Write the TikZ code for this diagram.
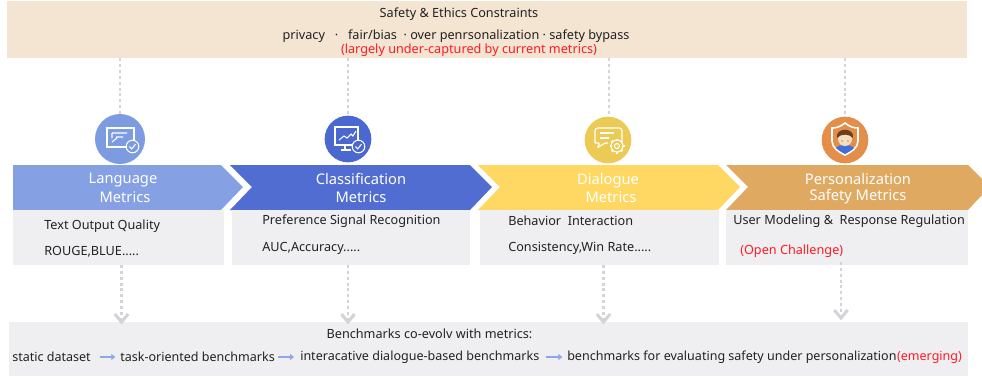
\documentclass[tikz,border=0pt]{standalone}
\usepackage{fontspec}
\setmainfont{Noto Sans}
\usetikzlibrary{arrows.meta}
\definecolor{bandtan}{HTML}{F4E4D2}
\definecolor{panelgray}{HTML}{EFEFF2}
\definecolor{dotgray}{HTML}{D4D4D8}
\definecolor{inkblack}{HTML}{222222}
\definecolor{alertred}{HTML}{FF1A24}
\definecolor{langblue}{HTML}{85A0E3}
\definecolor{langdisc}{HTML}{7D9BE0}
\definecolor{classblue}{HTML}{516DD2}
\definecolor{classdisc}{HTML}{4A68CF}
\definecolor{dialyellow}{HTML}{FFD864}
\definecolor{dialdisc}{HTML}{EBCB55}
\definecolor{perstan}{HTML}{E0A961}
\definecolor{persdisc}{HTML}{E38F4B}
\definecolor{flowblue}{HTML}{8CA8E6}
\definecolor{skintone}{HTML}{F6DDBE}
\definecolor{hairbrown}{HTML}{6B3F1D}
\definecolor{shirtblue}{HTML}{3F6FD8}
\tikzset{
  panel/.style={fill=#1, inner sep=0pt},
  bodytext/.style={anchor=west, inner sep=0pt, text=inkblack, font=\fontsize{9.5}{11}\selectfont},
  benchtext/.style={bodytext, font=\fontsize{9.4}{11}\selectfont},
  headtext/.style={inner sep=0pt, text=white, font=\fontsize{11}{13}\selectfont},
  redtext/.style={bodytext, text=alertred},
  disc/.style={circle, fill=#1, inner sep=0pt, minimum size=35pt},
  dotline/.style={dotgray, line width=2pt, dash pattern=on 2.2pt off 2.2pt},
  dotarrow/.style={dotline, -{Straight Barb[length=6pt,width=10pt,line width=2.3pt]}},
  flowarrow/.style={flowblue, line width=2.2pt, -{Triangle[length=3pt,width=4.5pt]}},
  glyph/.style={white, line width=0.8pt}
}
\begin{document}
\begin{tikzpicture}[x=0.75pt,y=-0.75pt]
\useasboundingbox (0,0) rectangle (982,376);

% top and bottom bands
\node[panel=bandtan, minimum width=720pt, minimum height=42.75pt] (band) at (487,29.5) {};
\node[panel=panelgray, minimum width=719.25pt, minimum height=40.5pt] (bench) at (488.5,349) {};
\node[bodytext, anchor=center] (title) at (459,14) {Safety \& Ethics Constraints};
\node[bodytext, anchor=center] (risks) at (456,36) {privacy\ \ \ ·\ \ \ fair/bias\ \ · over penrsonalization · safety bypass};
\node[redtext, anchor=center] (gap) at (469,50.5) {(largely under-captured by current metrics)};

% chevrons
\fill[langblue] (13,165) -- (221,165) -- (243,187) -- (221,210) -- (13,210) -- cycle;
\fill[classblue] (230,165) -- (470,165) -- (492,187) -- (470,210) -- (230,210) -- (252,187) -- cycle;
\fill[dialyellow] (478,165) -- (718,165) -- (740,187) -- (718,210) -- (478,210) -- (500,187) -- cycle;
\fill[perstan] (726,165) -- (968,165) -- (982,179) -- (982,195) -- (968,210) -- (726,210) -- (748,187) -- cycle;
\node[headtext] (langa) at (123,180.5) {Language};
\node[headtext] (langb) at (125,197) {Metrics};
\node[headtext] (classa) at (361,179) {Classification};
\node[headtext] (classb) at (361,197) {Metrics};
\node[headtext] (diala) at (608,180.5) {Dialogue};
\node[headtext] (dialb) at (611,197) {Metrics};
\node[headtext] (persa) at (858,179) {Personalization};
\node[headtext] (persb) at (858,197) {Safety Metrics};

% gray boxes
\node[panel=panelgray, minimum width=158.25pt, minimum height=41.25pt] (langbox) at (118.5,237.5) {};
\node[panel=panelgray, minimum width=178.5pt, minimum height=41.25pt] (classbox) at (351,237.5) {};
\node[panel=panelgray, minimum width=179.25pt, minimum height=41.25pt] (dialbox) at (599.5,237.5) {};
\node[panel=panelgray, minimum width=181.5pt, minimum height=41.25pt] (persbox) at (847,237.5) {};
\node[bodytext] (langtop) at (44,226) {Text Output Quality};
\node[bodytext] (langlow) at (44,252) {ROUGE,BLUE.....};
\node[bodytext] (classtop) at (262,221) {Preference Signal Recognition};
\node[bodytext] (classlow) at (262,248) {AUC,Accuracy.....};
\node[bodytext] (dialtop) at (508,221) {Behavior\ \ Interaction};
\node[bodytext] (diallow) at (508,248) {Consistency,Win Rate.....};
\node[bodytext] (perstop) at (733,221) {User Modeling \&\ \ Response Regulation};
\node[redtext] (perslow) at (740,251) {(Open Challenge)};

% icon discs
\node[disc=langdisc, minimum size=37.5pt] (lang) at (120,139) {};
\node[disc=classdisc] (class) at (348,139) {};
\node[disc=dialdisc] (dial) at (608,140) {};
\node[disc=persdisc] (pers) at (845,140) {};

% connectors
\draw[dotline] (lang |- band.south) -- (lang.north);
\draw[dotline] (class |- band.south) -- (class.north);
\draw[dotline] (609,58) coordinate (dialdrop) -- (dialdrop |- dial.north);
\draw[dotline] (pers |- band.south) -- (pers.north);
\coordinate (langdown) at (121.5,265);
\coordinate (classdown) at (348,265);
\coordinate (dialdown) at (603.5,265);
\coordinate (persdown) at (841,262);
\draw[dotarrow] (langdown) -- ([yshift=-2pt]langdown |- bench.north);
\draw[dotarrow] (classdown) -- ([yshift=-2pt]classdown |- bench.north);
\draw[dotarrow] (dialdown) -- ([yshift=-2pt]dialdown |- bench.north);
\draw[dotarrow] (persdown) -- ([yshift=1pt]persdown |- bench.north);

% benchmark row
\node[bodytext, anchor=center] (benchhead) at (429.5,334) {Benchmarks co-evolv with metrics:};
\node[benchtext] (static) at (12,357) {static dataset};
\node[benchtext] (task) at (120,357) {task-oriented benchmarks};
\node[benchtext] (inter) at (300,357) {interacative dialogue-based benchmarks};
\node[benchtext] (safe) at (567,357) {benchmarks for evaluating safety under personalization};
\node[benchtext, text=alertred] (emerge) at (safe.east) {(emerging)};
\draw[flowarrow, shorten <=6.5pt, shorten >=3.5pt] (static) -- (task);
\draw[flowarrow, shorten <=2.5pt, shorten >=4.5pt] (task) -- (inter);
\draw[flowarrow, shorten <=4.5pt, shorten >=3.5pt] (inter) -- (safe);

% language icon
\begin{scope}[shift={(lang)}]
\draw[glyph] (-13,-11) rectangle (14,8);
\draw[glyph] (-8,-6) -- (7,-6) (-8,-6) -- (-8,-1) (-4,-2) -- (3,-2) (-8,3) -- (-3,-1);
\filldraw[glyph, fill=langdisc] (12.5,7.5) circle (6.3);
\draw[glyph] (9.5,7.5) -- (11.7,9.8) -- (15.5,5.2);
\end{scope}

% classification icon
\begin{scope}[shift={(class)}]
\draw[glyph] (-13,-12) rectangle (10,6);
\draw[glyph] (-3,6) -- (-3,10) (-7,11) -- (3,11);
\draw[glyph] (-9,1) -- (-4,-3) -- (-1,-1) -- (3,-5) -- (5,-3) -- (8,-8);
\filldraw[glyph, fill=classdisc] (10.5,7.5) circle (6.3);
\draw[glyph] (7.5,7.5) -- (9.7,9.8) -- (13.5,5.2);
\end{scope}

% dialogue icon
\begin{scope}[shift={(dial)}]
\draw[glyph, rounded corners=2pt] (-13,3) -- (-13,-12) -- (14,-12) -- (14,0);
\draw[glyph, rounded corners=1pt] (-13,3) -- (-8,3) -- (-11,8) -- (-3,3) -- (0,3);
\draw[glyph] (-8,-7) -- (6,-7) (-8,-2) -- (1,-2);
\filldraw[glyph, fill=dialdisc] (9,6) circle (6);
\draw[glyph] (9,6) circle (2.5);
\foreach \spoke in {0,45,...,315}
  \draw[white, line width=1.6pt] (9,6) ++(\spoke:5.5) -- ++(\spoke:2);
\end{scope}

% personalization icon
\begin{scope}[shift={(pers)}]
\filldraw[glyph, line width=1.2pt, fill=persdisc] (0,-17) .. controls (-5,-13) and (-9,-12) .. (-13,-12) -- (-13,1) .. controls (-13,8) and (-6,12) .. (0,15) .. controls (6,12) and (13,8) .. (13,1) -- (13,-12) .. controls (9,-12) and (5,-13) .. cycle;
\fill[shirtblue] (-9,8) .. controls (-6,4) and (6,4) .. (9,8) .. controls (6,11) and (3,12) .. (0,14) .. controls (-3,12) and (-6,11) .. cycle;
\fill[skintone] (0,-1) circle (7);
\fill[hairbrown] (-8,-2) .. controls (-10,-13) and (10,-13) .. (8,-2) .. controls (5,-6) and (-4,-7) .. cycle;
\fill[hairbrown] (-3,1) circle (0.7) (3,1) circle (0.7);
\end{scope}
\end{tikzpicture}
\end{document}
